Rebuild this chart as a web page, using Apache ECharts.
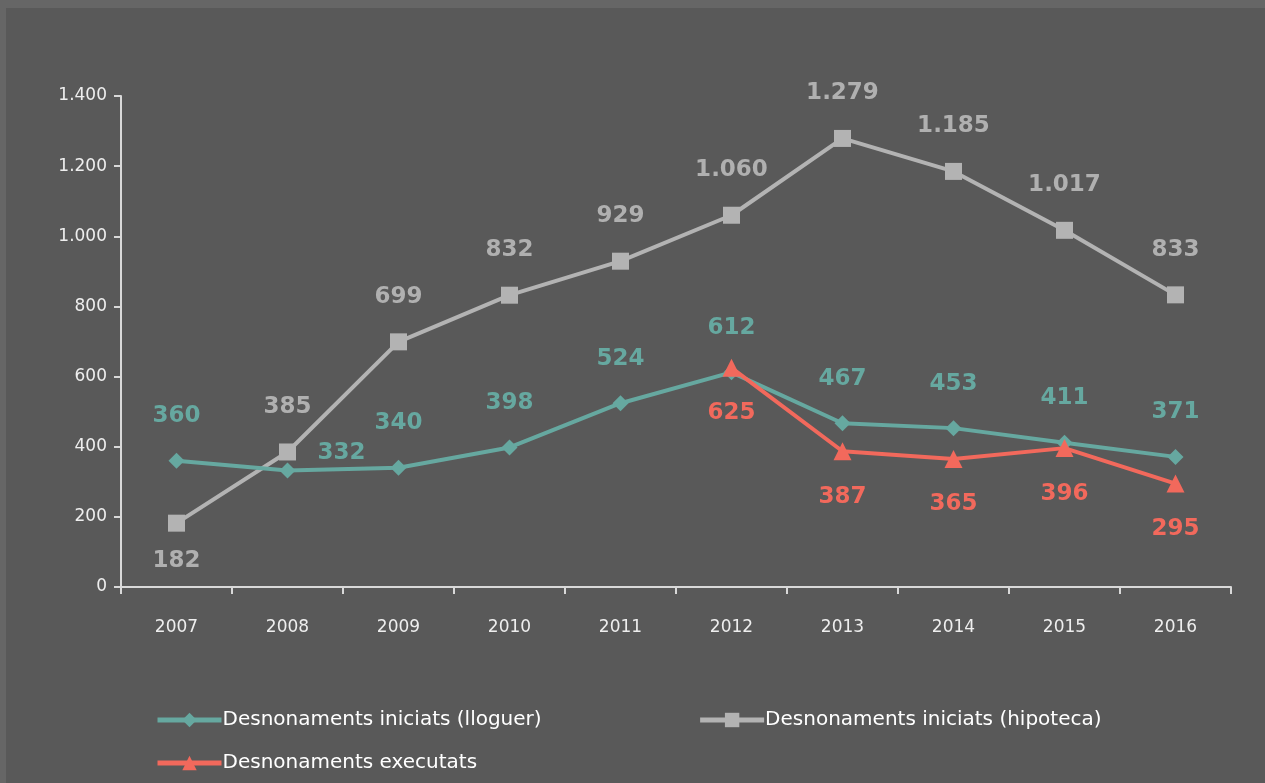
<!DOCTYPE html>
<html><head><meta charset="utf-8">
<script src="https://cdn.jsdelivr.net/npm/echarts@6/dist/echarts.min.js"></script>
<style>html,body{margin:0;padding:0;background:#666666;width:1265px;height:783px;overflow:hidden}
#c{position:absolute;left:6px;top:8px;width:1259px;height:775px;background:#595959}</style>
</head><body><div id="c"></div>
<script>
const years = ['2007','2008','2009','2010','2011','2012','2013','2014','2015','2016'];
const lloguer = [360,332,340,398,524,612,467,453,411,371];
const hipoteca = [182,385,699,832,929,1060,1279,1185,1017,833];
const executats = [null,null,null,null,null,625,387,365,396,295];
const names = ['Desnonaments iniciats (lloguer)','Desnonaments iniciats (hipoteca)','Desnonaments executats'];
const fmt = v => String(v).replace(/\B(?=(\d{3})+(?!\d))/g,'.');
const cTeal = '#66a8a0', cGray = '#b3b3b3', cRed = '#f2695c';
const labelBase = {show:true,fontSize:23,fontWeight:'bold',fontFamily:'DejaVu Sans',distance:25,formatter:p=>fmt(p.value)};
const legText = {color:'#ffffff',fontSize:20,fontFamily:'DejaVu Sans',padding:[0,0,0,-4]};
const chart = echarts.init(document.getElementById('c'));
chart.setOption({
  backgroundColor:'#595959',
  animation:false,
  grid:{left:115,right:34,top:88,bottom:196},
  xAxis:{type:'category',data:years,boundaryGap:true,
    axisLine:{lineStyle:{color:'#d9d9d9',width:2}},
    axisTick:{show:true,length:7,lineStyle:{color:'#d9d9d9',width:2}},
    axisLabel:{color:'#eeeeee',fontSize:17,fontFamily:'DejaVu Sans',margin:32},
    splitLine:{show:false}},
  yAxis:{type:'value',min:0,max:1400,interval:200,
    axisLine:{show:true,lineStyle:{color:'#d9d9d9',width:2}},
    axisTick:{show:true,length:7,lineStyle:{color:'#d9d9d9',width:2}},
    axisLabel:{color:'#eeeeee',fontSize:17,fontFamily:'DejaVu Sans',margin:14,formatter:fmt},
    splitLine:{show:false}},
  legend:[
    {left:144,top:697,itemWidth:64,itemHeight:18,itemGap:156,lineStyle:{width:5},
     textStyle:legText,data:[names[0],names[1]]},
    {left:144,top:740,itemWidth:64,itemHeight:18,lineStyle:{width:5},
     textStyle:legText,data:[names[2]]}
  ],
  series:[
    {name:names[1],type:'line',data:hipoteca.map((v,i)=>i===0?{value:v,label:{position:'bottom',distance:18}}:v),
     symbol:'rect',symbolSize:17,lineStyle:{color:cGray,width:4},itemStyle:{color:cGray},
     label:Object.assign({},labelBase,{position:'top',color:'#b0b0b0'}),z:2},
    {name:names[0],type:'line',data:lloguer.map((v,i)=>i===1?{value:v,label:{position:'right',offset:[0,-18],distance:22}}:v),
     symbol:'diamond',symbolSize:16,lineStyle:{color:cTeal,width:4},itemStyle:{color:cTeal},
     label:Object.assign({},labelBase,{position:'top',color:cTeal}),z:3},
    {name:names[2],type:'line',data:executats,
     symbol:'triangle',symbolSize:18,lineStyle:{color:cRed,width:4},itemStyle:{color:cRed},
     label:Object.assign({},labelBase,{position:'bottom',color:cRed}),z:4}
  ]
});
</script></body></html>
